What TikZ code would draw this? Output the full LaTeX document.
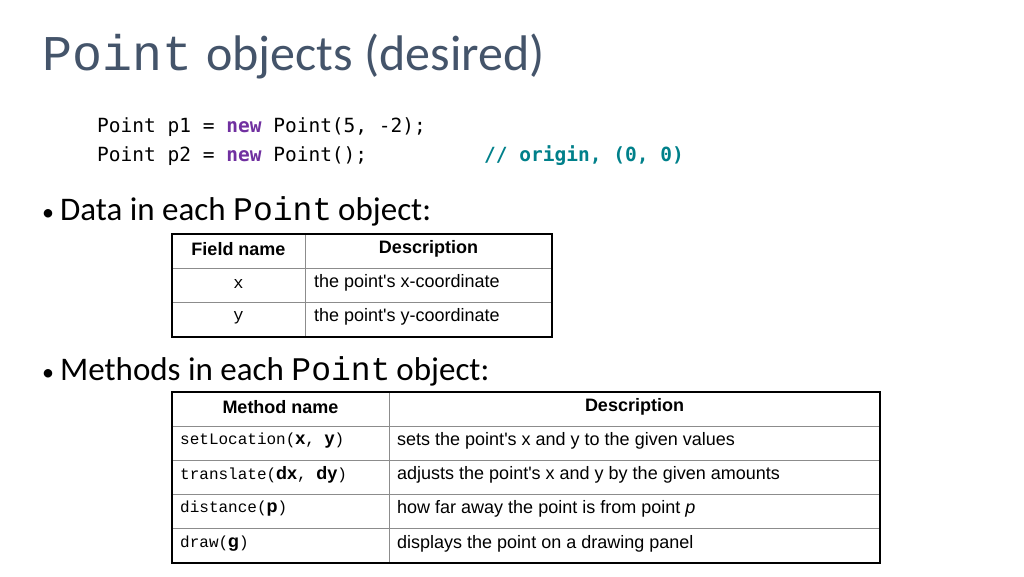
\documentclass[tikz,border=0pt]{standalone}
\usepackage{fontspec}
\setmainfont{Carlito}
\newfontfamily\cour{Liberation Mono}
\newfontfamily\cons{DejaVu Sans Mono}
\newfontfamily\ari{Liberation Sans}
\definecolor{ttl}{HTML}{44546A}
\definecolor{kw}{HTML}{7030A0}
\definecolor{cm}{HTML}{00808A}
\begin{document}
\begin{tikzpicture}[x=1pt,y=-1pt,
  cell/.style={anchor=west,font=\ari\fontsize{18}{20}\selectfont,inner sep=0},
  hdr/.style={anchor=center,font=\ari\bfseries\fontsize{18}{20}\selectfont,inner sep=0},
  code/.style={anchor=base west,inner sep=0,font=\cons\fontsize{19.5}{22}\selectfont},
  bul/.style={anchor=base west,inner sep=0,font=\fontsize{33}{36}\selectfont},
  grid/.style={draw=black!45,line width=0.8pt},
  frame/.style={draw=black,line width=2pt}]
\useasboundingbox (0,0) rectangle (1024,576);
\node[anchor=base west,inner sep=0,text=ttl] (title) at (42,70) {{\cour\fontsize{50}{54}\selectfont Point}\hspace{14pt}{\fontsize{50}{54}\selectfont objects (desired)}};
\node[code] (c1) at (97,132) {Point p1 = {\bfseries\color{kw}new} Point(5, -2);};
\node[code] (c2) at (97,161) {Point p2 = {\bfseries\color{kw}new} Point();};
\node[code,text=cm,font=\cons\bfseries\fontsize{19.5}{22}\selectfont] (c3) at (484,161) {// origin, (0, 0)};
\node[bul] (b1) at (42,220) {{\fontsize{24}{24}\selectfont\textbullet}\hspace{6pt}Data in each {\cour Point}\hspace{6pt}object:};
% table 1
\draw[grid] (172,268) -- (552,268) (172,302) -- (552,302) (305,234) -- (305,337);
\draw[frame] (172,234) rectangle (552,337);
\node[hdr] (h1) at (238.5,249) {Field name};
\node[hdr] (h2) at (428.5,249) {Description};
\node[font=\cour\fontsize{17}{20}\selectfont] (fx) at (238.5,284) {x};
\node[font=\cour\fontsize{17}{20}\selectfont] (fy) at (238.5,318) {y};
\node[cell] (dx) at (314,283) {the point's x-coordinate};
\node[cell] (dy) at (314,317) {the point's y-coordinate};
\node[bul] (b2) at (42,380) {{\fontsize{24}{24}\selectfont\textbullet}\hspace{6pt}Methods in each {\cour Point}\hspace{6pt}object:};
% table 2
\draw[grid] (172,426) -- (880,426) (172,460) -- (880,460) (172,494) -- (880,494) (172,528) -- (880,528) (389,392) -- (389,563);
\draw[frame] (172,392) rectangle (880,563);
\node[hdr] (m1) at (280.5,407) {Method name};
\node[hdr] (m2) at (634.5,407) {Description};
\newcommand\mm[1]{{\cour\fontsize{16}{18}\selectfont #1}}
\newcommand\bb[1]{{\ari\bfseries\fontsize{18}{20}\selectfont #1}}
\node[cell] (r1) at (180,441) {\mm{setLocation(}\bb{x}\mm{, }\bb{y}\mm{)}};
\node[cell] (r2) at (180,475) {\mm{translate(}\bb{dx}\mm{, }\bb{dy}\mm{)}};
\node[cell] (r3) at (180,509) {\mm{distance(}\bb{p}\mm{)}};
\node[cell] (r4) at (180,544) {\mm{draw(}\bb{g}\mm{)}};
\node[cell] (s1) at (397,441) {sets the point's x and y to the given values};
\node[cell] (s2) at (397,475) {adjusts the point's x and y by the given amounts};
\node[cell] (s3) at (397,509) {how far away the point is from point \textit{p}};
\node[cell] (s4) at (397,544) {displays the point on a drawing panel};
\end{tikzpicture}
\end{document}
